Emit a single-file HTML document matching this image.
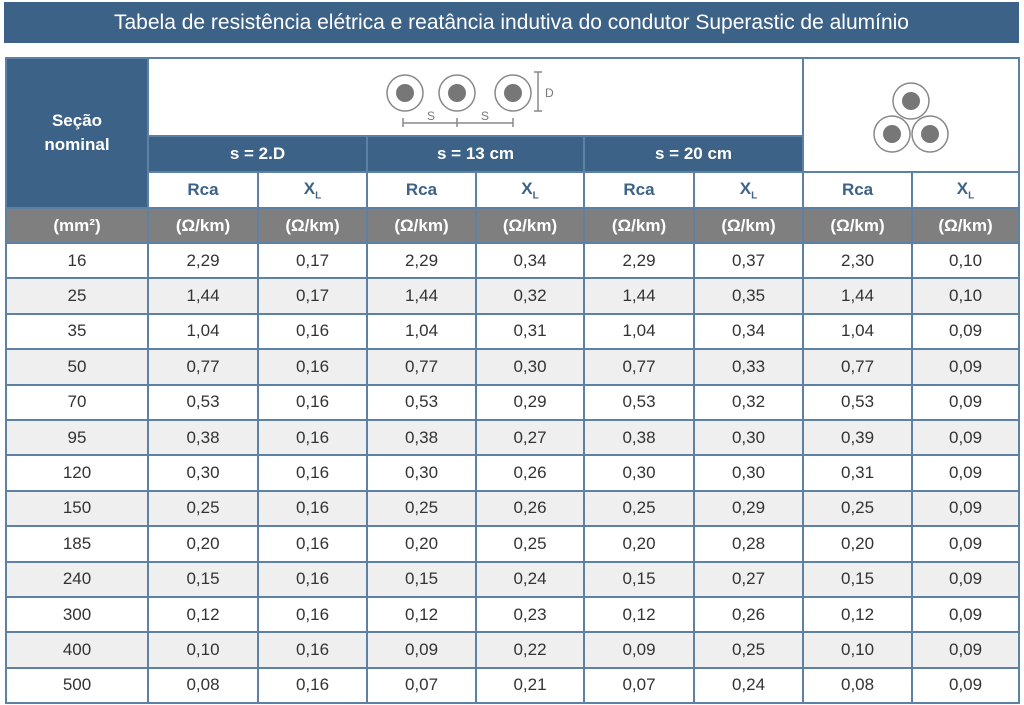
<!DOCTYPE html>
<html><head><meta charset="utf-8"><style>
body{margin:0;width:1024px;height:705px;background:#fff;position:relative;overflow:hidden;font-family:"Liberation Sans","DejaVu Sans",sans-serif}
.title{position:absolute;left:4px;top:2px;width:1015px;height:41px;background:#3d6287;color:#fff;font-size:21px;line-height:41px;text-align:center}
table{position:absolute;left:5px;top:57px;border-collapse:collapse;table-layout:fixed;width:1013px}
td{border:2px solid #5d81a5;text-align:center;font-size:17px;color:#333;padding:0}
.b{background:#3d6287;color:#fff;font-weight:bold}
.h{color:#3d6287;font-weight:bold}
.g td{background:#7f7f7f;color:#fff;font-weight:bold}
tr.d td{height:33.4px}
tr.d:nth-child(even) td{background:#efefef}
sub{font-size:10px}
</style></head><body>
<div class="title">Tabela de resistência elétrica e reatância indutiva do condutor Superastic de alumínio</div>
<table>
<colgroup><col style="width:142px"><col style="width:110px"><col style="width:109px"><col style="width:109px"><col style="width:108px"><col style="width:110px"><col style="width:109px"><col style="width:109px"><col style="width:107px"></colgroup>
<tr style="height:78px"><td class="b" rowspan="3" style="font-size:17px;line-height:24px">Seção<br>nominal</td>
<td colspan="6" style="border-bottom:none;position:relative"><svg width="654" height="76" style="display:block">
<g fill="none" stroke="#888" stroke-width="1.5">
<circle cx="256" cy="34" r="18"/><circle cx="308" cy="34" r="18"/><circle cx="364" cy="34" r="18"/>
<line x1="389" y1="13" x2="389" y2="52"/><line x1="385" y1="13" x2="393" y2="13"/><line x1="385" y1="52" x2="393" y2="52"/>
<line x1="254" y1="64" x2="364" y2="64"/><line x1="254" y1="59" x2="254" y2="68"/><line x1="308" y1="59" x2="308" y2="68"/><line x1="364" y1="59" x2="364" y2="68"/></g>
<g fill="#777"><circle cx="256" cy="34" r="9"/><circle cx="308" cy="34" r="9"/><circle cx="364" cy="34" r="9"/></g>
<g fill="#777" font-size="12" font-family="Liberation Sans"><text x="396" y="38">D</text><text x="278" y="61">S</text><text x="332" y="61">S</text></g></svg></td>
<td colspan="2" rowspan="2"><svg width="214" height="112" style="display:block"><g fill="none" stroke="#888" stroke-width="1.5"><circle cx="107" cy="42" r="18"/><circle cx="88" cy="75" r="18"/><circle cx="126" cy="75" r="18"/></g><g fill="#777"><circle cx="107" cy="42" r="9"/><circle cx="88" cy="75" r="9"/><circle cx="126" cy="75" r="9"/></g></svg></td></tr>
<tr style="height:36px"><td class="b" colspan="2">s = 2.D</td><td class="b" colspan="2">s = 13 cm</td><td class="b" colspan="2">s = 20 cm</td></tr>
<tr style="height:36px"><td class="h">Rca</td><td class="h">X<sub>L</sub></td><td class="h">Rca</td><td class="h">X<sub>L</sub></td><td class="h">Rca</td><td class="h">X<sub>L</sub></td><td class="h">Rca</td><td class="h">X<sub>L</sub></td></tr>
<tr class="g" style="height:35px"><td>(mm²)</td><td>(Ω/km)</td><td>(Ω/km)</td><td>(Ω/km)</td><td>(Ω/km)</td><td>(Ω/km)</td><td>(Ω/km)</td><td>(Ω/km)</td><td>(Ω/km)</td></tr>
<tr class="d"><td>16</td><td>2,29</td><td>0,17</td><td>2,29</td><td>0,34</td><td>2,29</td><td>0,37</td><td>2,30</td><td>0,10</td></tr>
<tr class="d"><td>25</td><td>1,44</td><td>0,17</td><td>1,44</td><td>0,32</td><td>1,44</td><td>0,35</td><td>1,44</td><td>0,10</td></tr>
<tr class="d"><td>35</td><td>1,04</td><td>0,16</td><td>1,04</td><td>0,31</td><td>1,04</td><td>0,34</td><td>1,04</td><td>0,09</td></tr>
<tr class="d"><td>50</td><td>0,77</td><td>0,16</td><td>0,77</td><td>0,30</td><td>0,77</td><td>0,33</td><td>0,77</td><td>0,09</td></tr>
<tr class="d"><td>70</td><td>0,53</td><td>0,16</td><td>0,53</td><td>0,29</td><td>0,53</td><td>0,32</td><td>0,53</td><td>0,09</td></tr>
<tr class="d"><td>95</td><td>0,38</td><td>0,16</td><td>0,38</td><td>0,27</td><td>0,38</td><td>0,30</td><td>0,39</td><td>0,09</td></tr>
<tr class="d"><td>120</td><td>0,30</td><td>0,16</td><td>0,30</td><td>0,26</td><td>0,30</td><td>0,30</td><td>0,31</td><td>0,09</td></tr>
<tr class="d"><td>150</td><td>0,25</td><td>0,16</td><td>0,25</td><td>0,26</td><td>0,25</td><td>0,29</td><td>0,25</td><td>0,09</td></tr>
<tr class="d"><td>185</td><td>0,20</td><td>0,16</td><td>0,20</td><td>0,25</td><td>0,20</td><td>0,28</td><td>0,20</td><td>0,09</td></tr>
<tr class="d"><td>240</td><td>0,15</td><td>0,16</td><td>0,15</td><td>0,24</td><td>0,15</td><td>0,27</td><td>0,15</td><td>0,09</td></tr>
<tr class="d"><td>300</td><td>0,12</td><td>0,16</td><td>0,12</td><td>0,23</td><td>0,12</td><td>0,26</td><td>0,12</td><td>0,09</td></tr>
<tr class="d"><td>400</td><td>0,10</td><td>0,16</td><td>0,09</td><td>0,22</td><td>0,09</td><td>0,25</td><td>0,10</td><td>0,09</td></tr>
<tr class="d"><td>500</td><td>0,08</td><td>0,16</td><td>0,07</td><td>0,21</td><td>0,07</td><td>0,24</td><td>0,08</td><td>0,09</td></tr>
</table>
</body></html>
